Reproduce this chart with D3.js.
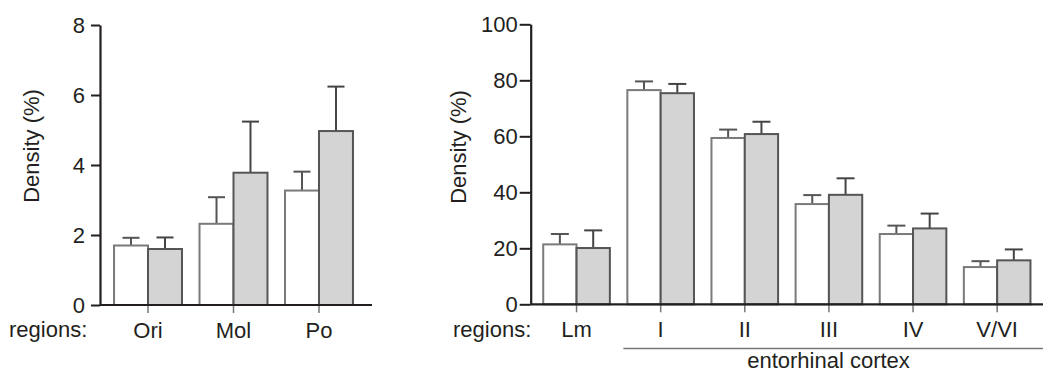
<!DOCTYPE html>
<html>
<head>
<meta charset="utf-8">
<script src="https://cdn.jsdelivr.net/npm/d3@7"></script>
<style>
  body { margin: 0; background: #fff; }
  svg { display: block; }
  text { font-family: "Liberation Sans", Arial, sans-serif; fill: #231f20; }
</style>
</head>
<body>
<div id="root"></div>
<script>
// hippocampus panel
const leftCats = ['Ori', 'Mol', 'Po'];
const leftCtrl = [1.70, 2.32, 3.27];
const leftCtrlErr = [0.22, 0.76, 0.54];
const leftTreat = [1.60, 3.78, 4.97];
const leftTreatErr = [0.33, 1.46, 1.27];
const leftTicks = [0, 2, 4, 6, 8];

// entorhinal panel
const rightCats = ['Lm', 'I', 'II', 'III', 'IV', 'V/VI'];
const rightCtrl = [21.4, 76.5, 59.4, 35.8, 25.1, 13.3];
const rightCtrlErr = [3.7, 3.1, 3.0, 3.2, 3.0, 2.1];
const rightTreat = [20.1, 75.4, 60.8, 39.1, 27.1, 15.7];
const rightTreatErr = [6.3, 3.3, 4.4, 5.9, 5.3, 3.9];
const rightTicks = [0, 20, 40, 60, 80, 100];

const W = 1043, H = 373;
const FONT = 22;
const axisColor = '#231f20';

const svg = d3.select('#root').append('svg')
  .attr('width', W).attr('height', H);

const drawPanel = (opt) => {
  const { cats, ctrl, ctrlErr, treat, treatErr, ticks, yMax, x0, x1, axisEnd, yTop, yBot, pi, po, tick, pad, cap } = opt;
  const g = svg.append('g');

  const y = d3.scaleLinear().domain([0, yMax]).range([yBot, yTop]);
  const x = d3.scaleBand().domain(cats).range([x0, x1]).paddingInner(pi).paddingOuter(po);
  const sub = d3.scaleBand().domain(['ctrl', 'treat']).range([0, x.bandwidth()]);

  const rows = cats.map((c, i) => [
    { cat: c, key: 'ctrl', v: ctrl[i], e: ctrlErr[i] },
    { cat: c, key: 'treat', v: treat[i], e: treatErr[i] }
  ]).flat();
  const cx = d => x(d.cat) + sub(d.key) + sub.bandwidth() / 2;

  // error bars first so the bar outline sits on top
  const err = g.append('g').selectAll('g').data(rows).join('g')
    .attr('stroke', d => d.key === 'ctrl' ? '#555' : '#444')
    .attr('stroke-width', 2);
  err.append('line')
    .attr('x1', cx).attr('x2', cx)
    .attr('y1', d => y(d.v))
    .attr('y2', d => y(d.v + d.e));
  err.append('line')
    .attr('x1', d => cx(d) - cap / 2)
    .attr('x2', d => cx(d) + cap / 2)
    .attr('y1', d => y(d.v + d.e))
    .attr('y2', d => y(d.v + d.e));

  g.append('g').selectAll('rect').data(rows).join('rect')
    .attr('x', d => x(d.cat) + sub(d.key))
    .attr('width', sub.bandwidth())
    .attr('y', d => y(d.v))
    .attr('height', d => y(0) - y(d.v))
    .attr('fill', d => d.key === 'ctrl' ? '#fff' : '#d4d4d4')
    .attr('stroke', d => d.key === 'ctrl' ? '#7a7a7a' : '#555')
    .attr('stroke-width', 2);

  // y axis
  const ya = g.append('g')
    .attr('transform', `translate(${x0},0)`)
    .call(d3.axisLeft(y).tickValues(ticks).tickSize(tick).tickSizeOuter(0).tickPadding(pad));
  ya.select('.domain').attr('stroke', axisColor).attr('stroke-width', 2.2);
  ya.selectAll('.tick line').attr('stroke', axisColor).attr('stroke-width', 2);
  ya.selectAll('.tick text').attr('font-size', FONT).attr('font-family', null).attr('fill', axisColor);

  // x axis
  const xa = g.append('g')
    .attr('transform', `translate(0,${yBot})`)
    .call(d3.axisBottom(x).tickSize(8).tickSizeOuter(0).tickPadding(9));
  xa.select('.domain').remove();
  xa.selectAll('.tick line').attr('stroke', '#777').attr('stroke-width', 1.5);
  xa.selectAll('.tick text').attr('font-size', FONT).attr('font-family', null).attr('fill', axisColor);
  g.append('line')
    .attr('x1', x0).attr('x2', axisEnd)
    .attr('y1', yBot).attr('y2', yBot)
    .attr('stroke', axisColor).attr('stroke-width', 2.2);

  return { g, x, y };
};

const L = drawPanel({
  cats: leftCats, ctrl: leftCtrl, ctrlErr: leftCtrlErr, treat: leftTreat, treatErr: leftTreatErr,
  ticks: leftTicks, yMax: 8, x0: 100, x1: 367, axisEnd: 372, yTop: 25, yBot: 305,
  pi: 0.205, po: 0.164, tick: 9, pad: 6, cap: 17
});
const R = drawPanel({
  cats: rightCats, ctrl: rightCtrl, ctrlErr: rightCtrlErr, treat: rightTreat, treatErr: rightTreatErr,
  ticks: rightTicks, yMax: 100, x0: 530.7, x1: 1043, axisEnd: 1043, yTop: 24.3, yBot: 304.3,
  pi: 0.208, po: 0.149, tick: 11, pad: 2, cap: 18
});

// axis titles
svg.append('text')
  .attr('transform', 'translate(38.5,146) rotate(-90)')
  .attr('text-anchor', 'middle').attr('font-size', FONT)
  .text('Density (%)');
svg.append('text')
  .attr('transform', 'translate(466,147) rotate(-90)')
  .attr('text-anchor', 'middle').attr('font-size', FONT)
  .text('Density (%)');

svg.append('text').attr('x', 9).attr('y', 337).attr('font-size', FONT).text('regions:');
svg.append('text').attr('x', 453).attr('y', 337).attr('font-size', FONT).text('regions:');

// entorhinal cortex bracket
svg.append('line')
  .attr('x1', R.x('I') - 4).attr('x2', W)
  .attr('y1', 348.5).attr('y2', 348.5)
  .attr('stroke', '#777').attr('stroke-width', 1.5);
svg.append('text')
  .attr('x', 828.5).attr('y', 368)
  .attr('text-anchor', 'middle').attr('font-size', FONT)
  .text('entorhinal cortex');
</script>
</body>
</html>
